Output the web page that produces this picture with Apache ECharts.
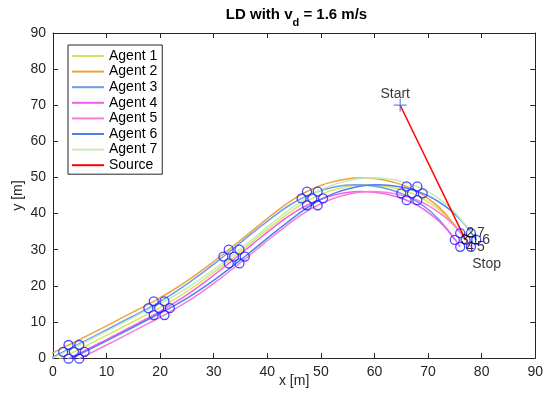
<!DOCTYPE html>
<html>
<head>
<meta charset="utf-8">
<script src="https://cdn.jsdelivr.net/npm/echarts@6/dist/echarts.min.js"></script>
<style>
  html, body { margin: 0; padding: 0; background: #fff; }
  #chart { width: 546px; height: 400px; }
</style>
</head>
<body>
<div id="chart"></div>
<script>
// Trajectories of the seven agents (x, y in metres)
const agent1 = [[-1.0,-1.94],[3.9,1.7],[10,6.25],[15,10.1],[19.8,13.8],[23.5,17.0],[27,20.45],[30.5,24.25],[33.8,28.1],[37,31.94],[40,35.54],[44,40.14],[46.2,42.37],[48.4,44.2],[50.7,45.72],[53,46.81],[55.8,47.7],[58.5,48.0],[61,47.8],[63,47.35],[65,46.6],[67,45.6],[69,44.15],[71,42.24],[73,39.87],[75,36.7],[77,32.7]];
const agent2 = [[-2.0,-0.04],[2.9,3.6],[9,8.15],[14,12.0],[18.8,15.7],[22.5,18.9],[26,22.35],[29.5,26.15],[32.8,30.0],[36,33.84],[39,37.44],[43,42.04],[45.2,44.27],[47.4,46.1],[49.7,47.62],[52,48.71],[54.8,49.6],[57.5,49.9],[60,49.7],[62,49.25],[64,48.5],[66,47.5],[68,46.05],[70,44.14],[72,41.77],[74,38.6],[76,34.6]];
const agent3 = [[-3.0,-1.94],[1.9,1.7],[8,6.25],[13,10.1],[17.8,13.8],[21.5,17.0],[25,20.45],[28.5,24.25],[31.8,28.1],[35,31.94],[38,35.54],[42,40.14],[44.2,42.37],[46.4,44.2],[48.7,45.72],[51,46.81],[53.8,47.7],[56.5,48.0],[59,47.8],[61,47.35],[63,46.6],[65,45.6],[67,44.15],[69,42.24],[71,39.87],[73,36.7],[75,32.7]];
const agent4 = [[-2.0,-3.84],[2.9,-0.2],[9,4.35],[14,8.2],[18.8,11.9],[22.5,15.1],[26,18.55],[29.5,22.35],[32.8,26.2],[36,30.04],[39,33.64],[43,38.24],[45.2,40.47],[47.4,42.3],[49.7,43.82],[52,44.91],[54.8,45.8],[57.5,46.1],[60,45.9],[62,45.45],[64,44.7],[66,43.7],[68,42.25],[70,40.34],[72,37.97],[74,34.8],[76,30.8]];
const agent5 = [[0.0,-3.84],[4.9,-0.2],[11,4.35],[16,8.2],[20.8,11.9],[24.5,15.1],[28,18.55],[31.5,22.35],[34.8,26.2],[38,30.04],[41,33.64],[45,38.24],[47.2,40.47],[49.4,42.3],[51.7,43.82],[54,44.91],[56.8,45.8],[59.5,46.1],[62,45.9],[64,45.45],[66,44.7],[68,43.7],[70,42.25],[72,40.34],[74,37.97],[76,34.8],[78,30.8]];
const agent6 = [[1.0,-1.94],[5.9,1.7],[12,6.25],[17,10.1],[21.8,13.8],[25.5,17.0],[29,20.45],[32.5,24.25],[35.8,28.1],[39,31.94],[42,35.54],[46,40.14],[48.2,42.37],[50.4,44.2],[52.7,45.72],[55,46.81],[57.8,47.7],[60.5,48.0],[63,47.8],[65,47.35],[67,46.6],[69,45.6],[71,44.15],[73,42.24],[75,39.87],[77,36.7],[79,32.7]];
const agent7 = [[0.0,-0.04],[4.9,3.6],[11,8.15],[16,12.0],[20.8,15.7],[24.5,18.9],[28,22.35],[31.5,26.15],[34.8,30.0],[38,33.84],[41,37.44],[45,42.04],[47.2,44.27],[49.4,46.1],[51.7,47.62],[54,48.71],[56.8,49.6],[59.5,49.9],[62,49.7],[64,49.25],[66,48.5],[68,47.5],[70,46.05],[72,44.14],[74,41.77],[76,38.6],[78,34.6]];

// Indices along the trajectories where the formation is marked
const snapshotIdx = [1, 4, 8, 13, 21, 26];

// Source path: from start to stop
const sourcePath = [[64.8, 70.0], [77.0, 32.7]];

const agentNames = ['Agent 1','Agent 2','Agent 3','Agent 4','Agent 5','Agent 6','Agent 7'];
const agentIds = ['1','2','3','4','5','6','7'];
const xTicks = [0,10,20,30,40,50,60,70,80,90];
const yTicks = [0,10,20,30,40,50,60,70,80,90];

const agents = [agent1, agent2, agent3, agent4, agent5, agent6, agent7];
const agentColors = ['#dbe462','#f0a33a','#6e9cf2','#f35cf0','#f77ed4','#4c82ee','#c6ecb6'];
const FONT = '"Liberation Sans", Arial, Helvetica, sans-serif';
const AX = '#262626';

const chart = echarts.init(document.getElementById('chart'), null, { renderer: 'canvas' });

const series = [];
agents.forEach((path, i) => {
  series.push({
    name: agentNames[i],
    type: 'line',
    data: path,
    smooth: 0.35,
    symbol: 'none',
    clip: true,
    lineStyle: { color: agentColors[i], width: 1.5 },
    itemStyle: { color: agentColors[i] },
    z: 2
  });
});
series.push({
  name: 'Source',
  type: 'line',
  data: sourcePath,
  symbol: 'none',
  lineStyle: { color: '#ff0000', width: 1.5 },
  itemStyle: { color: '#ff0000' },
  z: 3
});

// Formation snapshots (hollow blue circles)
const snapPts = [];
snapshotIdx.forEach(k => agents.forEach(p => snapPts.push(p[k])));
series.push({
  type: 'scatter',
  data: snapPts,
  symbol: 'circle',
  symbolSize: 9,
  clip: false,
  itemStyle: { color: 'rgba(0,0,0,0)', borderColor: '#1a1aff', borderWidth: 1.3 },
  z: 5,
  silent: true
});

// Agent numbers at the final formation
const lastIdx = snapshotIdx[snapshotIdx.length - 1];
series.push({
  type: 'scatter',
  data: agents.map((p, i) => ({ value: p[lastIdx], name: agentIds[i] })),
  symbolSize: 0,
  clip: false,
  label: {
    show: true, position: 'right', distance: 6,
    formatter: '{b}', color: '#000', fontSize: 14, fontFamily: FONT
  },
  z: 6,
  silent: true
});

// Start marker and text
series.push({
  type: 'scatter',
  data: [sourcePath[0]],
  symbol: 'path://M0,6L12,6M6,0L6,12',
  symbolSize: 13,
  clip: false,
  itemStyle: { color: 'rgba(0,0,0,0)', borderColor: '#3a6fd8', borderWidth: 1.2 },
  label: {
    show: true, formatter: 'Start', position: 'top', distance: 2,
    offset: [-5, 5], color: '#000', fontSize: 14, fontFamily: FONT
  },
  z: 6,
  silent: true
});

// Stop text near the end of the source path
series.push({
  type: 'scatter',
  data: [sourcePath[1]],
  symbolSize: 0,
  clip: false,
  label: {
    show: true, formatter: 'Stop', position: 'inside',
    offset: [21, 24], color: '#000', fontSize: 14, fontFamily: FONT
  },
  z: 6,
  silent: true
});

const axisCommon = {
  type: 'value', min: 0, max: 90, interval: 10,
  axisLine: { show: true, onZero: false, lineStyle: { color: AX, width: 1 } },
  axisTick: { show: true, inside: true, length: 5, lineStyle: { color: AX } },
  splitLine: { show: false }
};

// Title with a subscript: pieces measured so the whole line is centred over the plot
const titleMain = 'bold 15px ' + FONT;
const titleSub = 'bold 11px ' + FONT;
const ctx = document.createElement('canvas').getContext('2d');
function textW(t, f) { ctx.font = f; return ctx.measureText(t).width; }
const tA = 'LD with v', tS = 'd', tB = ' = 1.6 m/s';
const wA = textW(tA, titleMain), wS = textW(tS, titleSub), wB = textW(tB, titleMain);
const titleCx = 296.5, titleY = 16;
const x0 = titleCx - (wA + wS + wB) / 2;

chart.setOption({
  animation: false,
  backgroundColor: '#fff',
  graphic: [
    { type: 'text', left: x0, top: titleY - 8.5, silent: true,
      style: { text: tA, font: titleMain, fill: '#000' } },
    { type: 'text', left: x0 + wA, top: titleY + 1, silent: true,
      style: { text: tS, font: titleSub, fill: '#000' } },
    { type: 'text', left: x0 + wA + wS, top: titleY - 8.5, silent: true,
      style: { text: tB, font: titleMain, fill: '#000' } }
  ],
  grid: { left: 53, right: 6, top: 33, bottom: 42, containLabel: false },
  legend: {
    orient: 'vertical',
    left: 68, top: 45,
    data: agentNames.concat(['Source']),
    icon: 'rect',
    backgroundColor: '#fff',
    borderColor: AX, borderWidth: 1,
    padding: [4, 5, 2, 4],
    itemWidth: 32, itemHeight: 2, itemGap: 1.6,
    textStyle: { fontSize: 14, fontFamily: FONT, color: '#000', lineHeight: 14 }
  },
  xAxis: [
    Object.assign({}, axisCommon, {
      position: 'bottom',
      name: 'x [m]', nameLocation: 'middle', nameGap: 16, nameMoveOverlap: false,
      nameTextStyle: { fontSize: 14, fontFamily: FONT, color: AX },
      axisLabel: { show: true, margin: 7, fontSize: 14, fontFamily: FONT, color: AX,
        formatter: v => xTicks.includes(v) ? String(v) : '' }
    }),
    Object.assign({}, axisCommon, { position: 'top', axisLabel: { show: false } })
  ],
  yAxis: [
    Object.assign({}, axisCommon, {
      position: 'left',
      name: 'y [m]', nameLocation: 'middle', nameGap: 28, nameMoveOverlap: false,
      nameTextStyle: { fontSize: 14, fontFamily: FONT, color: AX },
      axisLabel: { show: true, margin: 7, fontSize: 14, fontFamily: FONT, color: AX,
        formatter: v => yTicks.includes(v) ? String(v) : '' }
    }),
    Object.assign({}, axisCommon, { position: 'right', axisLabel: { show: false } })
  ],
  series: series
});
</script>
</body>
</html>
